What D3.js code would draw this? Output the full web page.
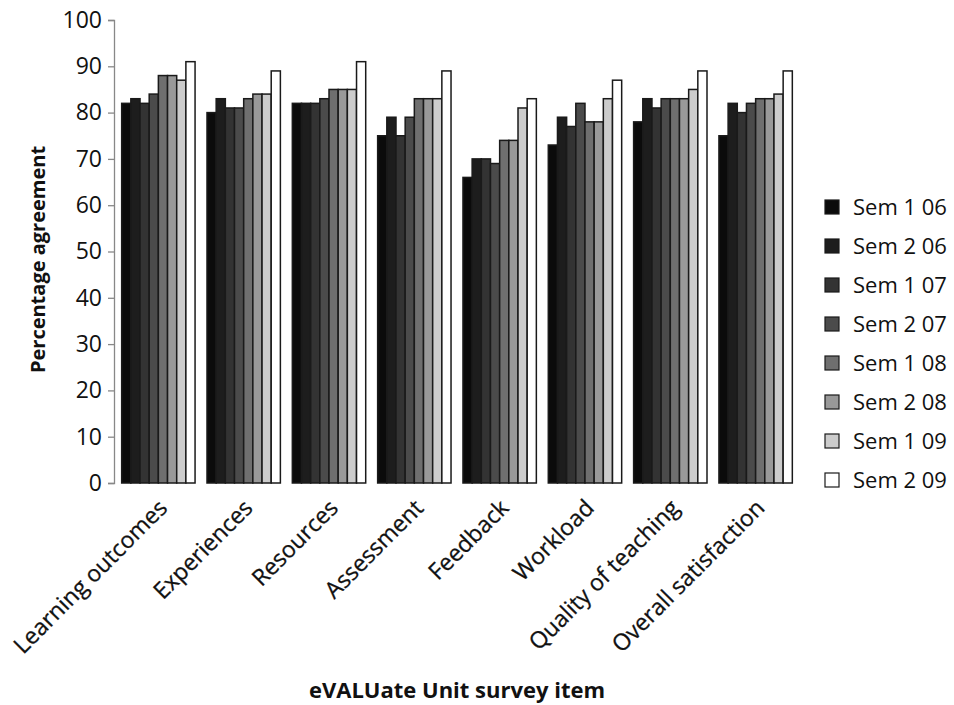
<!DOCTYPE html>
<html>
<head>
<meta charset="utf-8">
<script src="https://cdn.jsdelivr.net/npm/d3@7"></script>
<style>
  body { margin: 0; background: #fff; }
  svg { display: block; font-family: "Open Sans", "Liberation Sans", sans-serif; }
</style>
</head>
<body>
<svg id="chart" width="954" height="705"></svg>
<script>
// Survey items along the x axis
const categories = ["Learning outcomes", "Experiences", "Resources", "Assessment",
  "Feedback", "Workload", "Quality of teaching", "Overall satisfaction"];

// Semesters (one bar per semester in each group)
const semesters = ["Sem 1 06", "Sem 2 06", "Sem 1 07", "Sem 2 07",
  "Sem 1 08", "Sem 2 08", "Sem 1 09", "Sem 2 09"];

// Percentage agreement, one array per survey item, in semester order
const learningOutcomes   = [82, 83, 82, 84, 88, 88, 87, 91];
const experiences        = [80, 83, 81, 81, 83, 84, 84, 89];
const resources          = [82, 82, 82, 83, 85, 85, 85, 91];
const assessment         = [75, 79, 75, 79, 83, 83, 83, 89];
const feedback           = [66, 70, 70, 69, 74, 74, 81, 83];
const workload           = [73, 79, 77, 82, 78, 78, 83, 87];
const qualityOfTeaching  = [78, 83, 81, 83, 83, 83, 85, 89];
const overallSatisfaction= [75, 82, 80, 82, 83, 83, 84, 89];

const yTicks = [0, 10, 20, 30, 40, 50, 60, 70, 80, 90, 100];

const values = [learningOutcomes, experiences, resources, assessment,
  feedback, workload, qualityOfTeaching, overallSatisfaction];

const fills = ["#0b0b0b", "#1d1d1d", "#333333", "#4b4b4b",
  "#6f6f6f", "#999999", "#cccccc", "#ffffff"];

const svg = d3.select("#chart");
const plotLeft = 114, plotRight = 800, plotTop = 20, plotBottom = 483;

const x0 = d3.scaleBand().domain(categories).range([plotLeft, plotRight])
  .paddingInner(0.14).paddingOuter(0.09);
const x1 = d3.scaleBand().domain(semesters).range([0, x0.bandwidth()]);
const y = d3.scaleLinear().domain([0, 100]).range([plotBottom, plotTop]);
const color = d3.scaleOrdinal().domain(semesters).range(fills);

// Bars
const groups = svg.append("g").selectAll("g")
  .data(categories)
  .join("g")
  .attr("transform", d => `translate(${x0(d)},0)`);

groups.selectAll("rect")
  .data((d, i) => semesters.map((s, j) => ({ s, v: values[i][j] })))
  .join("rect")
  .attr("x", d => x1(d.s))
  .attr("y", d => y(d.v))
  .attr("width", x1.bandwidth())
  .attr("height", d => y(0) - y(d.v))
  .attr("fill", d => color(d.s))
  .attr("stroke", "#1a1a1a")
  .attr("stroke-width", 1.5);

// Y axis
const yAxis = svg.append("g")
  .attr("transform", `translate(${plotLeft},0)`)
  .call(d3.axisLeft(y).tickValues(yTicks).tickSize(6).tickPadding(6));
yAxis.select(".domain").attr("stroke", "#888").attr("stroke-width", 1.3);
yAxis.selectAll(".tick line").attr("stroke", "#888").attr("stroke-width", 1.3);
yAxis.selectAll(".tick text").attr("font-size", 23).attr("fill", "#111")
  .style("font-family", "'Open Sans', sans-serif");

// Category labels, rotated
svg.append("g").selectAll("text")
  .data(categories)
  .join("text")
  .attr("transform", d => `translate(${x0(d) + x0.bandwidth() / 2 - 1},${plotBottom + 15}) rotate(-45)`)
  .attr("text-anchor", "end")
  .attr("dy", "0.7em")
  .attr("font-size", 23)
  .attr("fill", "#111")
  .attr("stroke", "#111")
  .attr("stroke-width", 0.3)
  .text(d => d);

// Axis titles
svg.append("text")
  .attr("transform", `translate(45,${(plotTop + plotBottom) / 2 + 8}) rotate(-90)`)
  .attr("text-anchor", "middle")
  .attr("font-size", 20)
  .attr("font-weight", "bold")
  .attr("fill", "#111")
  .text("Percentage agreement");

svg.append("text")
  .attr("x", 457)
  .attr("y", 698)
  .attr("text-anchor", "middle")
  .attr("font-size", 22)
  .attr("font-weight", "bold")
  .attr("fill", "#111")
  .text("eVALUate Unit survey item");

// Legend
const legend = svg.append("g").selectAll("g")
  .data(semesters)
  .join("g")
  .attr("transform", (d, i) => `translate(825,${207 + i * 39})`);

legend.append("rect")
  .attr("x", 0).attr("y", -7)
  .attr("width", 14).attr("height", 14)
  .attr("fill", d => color(d))
  .attr("stroke", "#1a1a1a")
  .attr("stroke-width", 1.2);

legend.append("text")
  .attr("x", 28)
  .attr("dy", "0.35em")
  .attr("font-size", 22)
  .attr("fill", "#111")
  .text(d => d);
</script>
</body>
</html>
